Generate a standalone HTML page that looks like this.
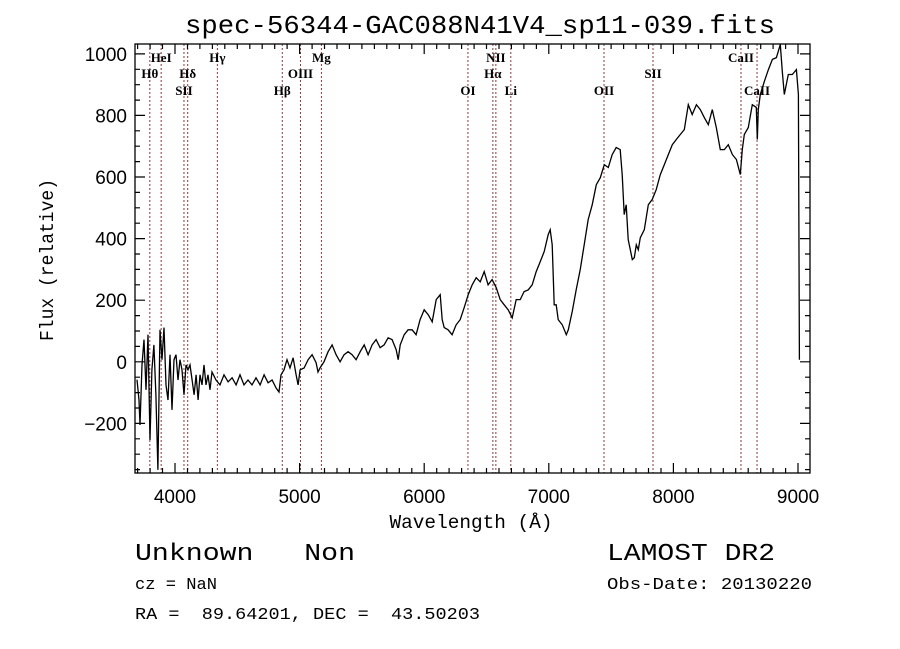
<!DOCTYPE html>
<html><head><meta charset="utf-8">
<style>
html,body{margin:0;padding:0;background:#fff;}
svg{display:block;}
text{white-space:pre;}
</style></head>
<body>
<svg id="chart" width="900" height="649" viewBox="0 0 900 649" xmlns="http://www.w3.org/2000/svg" xml:space="preserve">
<rect x="0" y="0" width="900" height="649" fill="#fff"/>
<text x="480" y="33" text-anchor="middle" font-family="Liberation Mono, monospace" font-size="26" textLength="590" lengthAdjust="spacingAndGlyphs">spec-56344-GAC088N41V4_sp11-039.fits</text>
<g id="lines"></g>
<g id="axes"></g>
<path id="spec" fill="none" stroke="#000" stroke-width="1.3"/>
<text x="471" y="528" text-anchor="middle" font-family="Liberation Mono, monospace" font-size="19" textLength="163" lengthAdjust="spacingAndGlyphs">Wavelength (Å)</text>
<text transform="translate(53,260) rotate(-90)" text-anchor="middle" font-family="Liberation Mono, monospace" font-size="19" textLength="162" lengthAdjust="spacingAndGlyphs">Flux (relative)</text>
<text x="135" y="560" font-family="Liberation Mono, monospace" font-size="24" textLength="220" lengthAdjust="spacingAndGlyphs">Unknown   Non</text>
<text x="607" y="560" font-family="Liberation Mono, monospace" font-size="24" textLength="168" lengthAdjust="spacingAndGlyphs">LAMOST DR2</text>
<text x="135" y="589" font-family="Liberation Mono, monospace" font-size="17" textLength="82" lengthAdjust="spacingAndGlyphs">cz = NaN</text>
<text x="607" y="589" font-family="Liberation Mono, monospace" font-size="17" textLength="205" lengthAdjust="spacingAndGlyphs">Obs-Date: 20130220</text>
<text x="135" y="619" font-family="Liberation Mono, monospace" font-size="17" textLength="345" lengthAdjust="spacingAndGlyphs">RA =  89.64201, DEC =  43.50203</text>
</svg>
<script>
const wavelengths=[3695,3711,3719,3735,3751,3767,3783,3799,3815,3831,3847,3863,3880,3896,3912,3928,3944,3960,3976,3992,4008,4024,4040,4056,4072,4088,4104,4120,4137,4153,4169,4185,4201,4217,4233,4249,4265,4281,4297,4329,4361,4393,4426,4458,4490,4522,4554,4586,4618,4650,4683,4715,4747,4779,4811,4835,4851,4875,4899,4923,4948,4972,4988,5004,5036,5068,5100,5132,5148,5164,5196,5229,5261,5293,5325,5357,5389,5421,5453,5486,5518,5550,5582,5614,5646,5678,5710,5742,5775,5791,5807,5839,5871,5903,5935,5967,6000,6032,6064,6096,6128,6144,6160,6192,6224,6256,6289,6321,6353,6385,6417,6449,6481,6513,6545,6578,6610,6642,6674,6706,6738,6770,6802,6835,6867,6899,6931,6963,6995,7011,7027,7043,7059,7075,7108,7140,7156,7188,7220,7252,7284,7316,7348,7381,7413,7445,7477,7509,7541,7573,7589,7605,7621,7637,7654,7670,7686,7702,7718,7734,7766,7798,7830,7862,7895,7927,7959,7991,8023,8055,8087,8119,8151,8184,8216,8248,8280,8312,8344,8376,8408,8440,8473,8505,8537,8553,8569,8601,8633,8665,8673,8681,8697,8729,8762,8794,8826,8858,8874,8890,8922,8954,8987,9003,9011];
const fluxes=[-58,-124,-205,-10,72,-91,88,-254,-26,55,-107,-351,104,7,111,-75,-124,23,-156,7,23,-59,7,-26,-107,-10,-26,-10,-59,-107,-42,-124,-42,-75,-10,-75,-42,-91,-33,-59,-75,-42,-65,-52,-75,-42,-75,-59,-75,-52,-75,-42,-68,-59,-85,-98,-42,-26,7,-20,13,-42,-75,-26,-20,7,23,-3,-33,-20,0,33,55,23,0,23,33,23,7,33,55,23,55,72,46,55,78,72,39,7,55,88,104,104,88,137,169,153,130,202,218,137,111,104,88,120,137,176,218,250,273,260,293,250,267,241,202,185,169,143,202,202,228,234,250,293,325,358,413,429,380,185,185,137,120,88,104,163,234,299,380,462,510,575,598,640,631,673,696,689,608,478,510,397,364,332,338,380,364,403,429,510,527,559,608,640,673,705,722,738,754,835,803,835,819,793,770,819,761,689,689,705,673,657,608,689,738,761,835,826,722,819,868,910,949,982,988,1030,943,868,933,933,949,868,7];
const xTicks=[4000,5000,6000,7000,8000,9000];
const yTicks=[-200,0,200,400,600,800,1000];
const lineNames=["Hθ","HeI","SII","Hδ","Hγ","Hβ","OIII","Mg","OI","Hα","NII","Li","OII","SII","CaII","CaII"];
const lineWaves=[3798,3889,4072,4102,4340,4861,5007,5175,6351,6551,6575,6695,7443,7836,8542,8671];
const lineRows=[1,0,2,1,0,2,1,0,2,1,0,2,2,1,0,2];

const L=135,R=810,T=44,B=473;
const X0=3679,X1=9096,Y0=-361,Y1=1032;
const sx=w=>L+(w-X0)/(X1-X0)*(R-L);
const sy=f=>B-(f-Y0)/(Y1-Y0)*(B-T);
const NS="http://www.w3.org/2000/svg";
function mk(tag,attrs,parent){const e=document.createElementNS(NS,tag);for(const k in attrs)e.setAttribute(k,attrs[k]);parent.appendChild(e);return e;}

const axes=document.getElementById('axes');
const frame=mk('rect',{x:L,y:T,width:R-L,height:B-T,fill:'none',stroke:'#000','stroke-width':1.3},axes);


let tp='';
for(let w=3700;w<=9096;w+=100){const x=sx(w).toFixed(1);const len=(w%1000===0)?10:5;tp+=`M${x} ${B}v${-len}M${x} ${T}v${len}`;}
for(let f=-350;f<=1032;f+=50){const y=sy(f).toFixed(1);const len=(f%200===0)?10:5;tp+=`M${L} ${y}h${len}M${R} ${y}h${-len}`;}
const ticks=mk('path',{d:tp,stroke:'#000','stroke-width':1.2,fill:'none'},axes);


xTicks.forEach(v=>{const t=mk('text',{x:sx(v),y:503,'text-anchor':'middle','font-family':'Liberation Sans, sans-serif','font-size':19},axes);t.textContent=v;

});
yTicks.forEach(v=>{const t=mk('text',{x:127,y:sy(v)+7,'text-anchor':'end','font-family':'Liberation Sans, sans-serif','font-size':19},axes);t.textContent=v<0?'\u2212'+(-v):v;

});

const lg=document.getElementById('lines');
const rowY=[62,78,95];
lineWaves.forEach((w,i)=>{const x=sx(w);
const ln=mk('line',{x1:x,x2:x,y1:T,y2:B,stroke:'#8b3a3a','stroke-width':1,'stroke-dasharray':'2,2'},lg);


const t=mk('text',{x:x,y:rowY[lineRows[i]],'text-anchor':'middle','font-family':'Liberation Serif, serif','font-size':13,'font-weight':'bold'},lg);t.textContent=lineNames[i];

});

let d='';
wavelengths.forEach((w,i)=>{const f=Math.max(Y0,Math.min(Y1,fluxes[i]));d+=(i?'L':'M')+sx(w).toFixed(1)+' '+sy(f).toFixed(1);});
document.getElementById('spec').setAttribute('d',d);
</script>
</body></html>
